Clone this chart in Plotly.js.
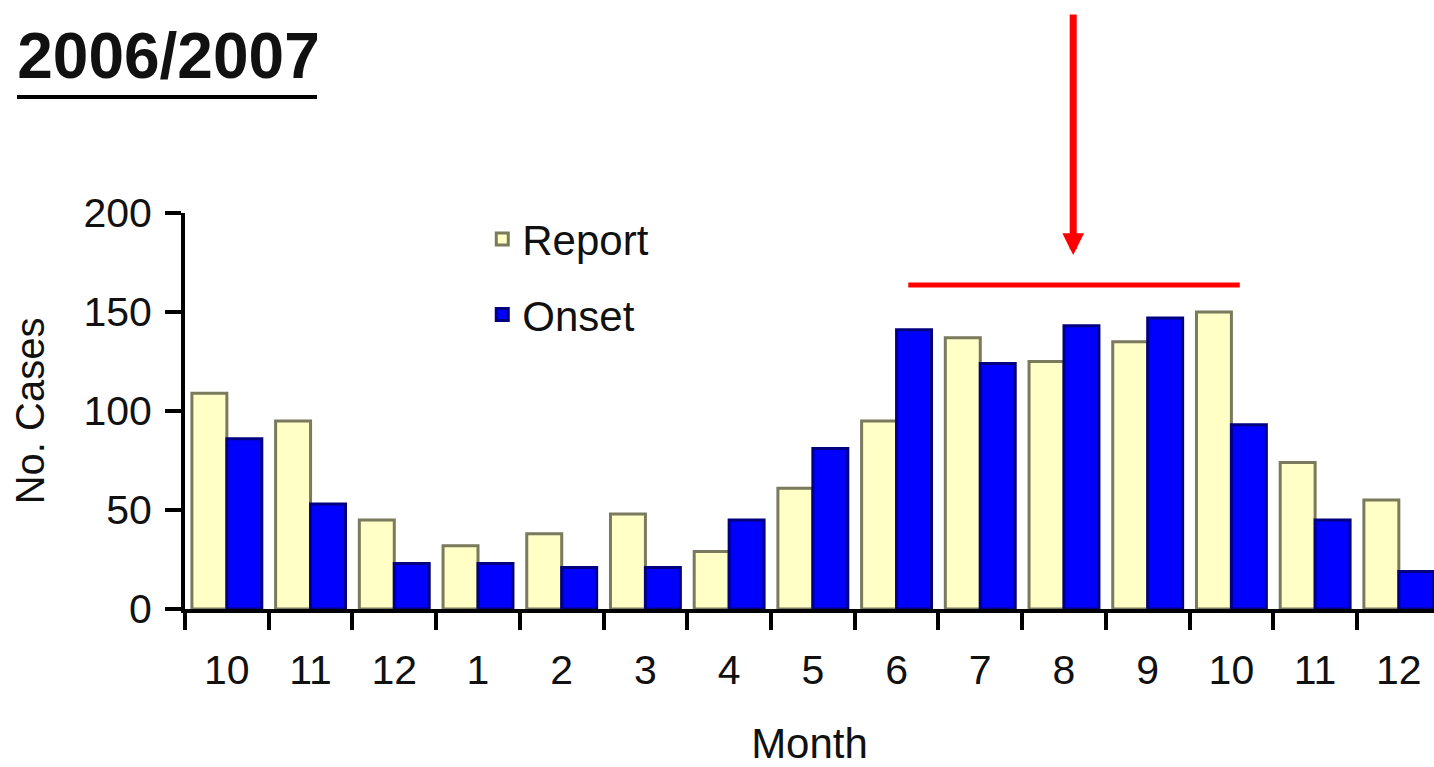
<!DOCTYPE html>
<html>
<head>
<meta charset="utf-8">
<script src="https://cdn.plot.ly/plotly-3.0.1.min.js"></script>
<style>html,body{margin:0;padding:0;background:#fff;}#chart{width:1434px;height:767px;}</style>
</head>
<body>
<div id="chart"></div>
<script>
const monthLabels = ["10","11","12","1","2","3","4","5","6","7","8","9","10","11","12"];
const reportCases = [109, 95, 45, 32, 38, 48, 29, 61, 95, 137, 125, 135, 150, 74, 55];
const onsetCases  = [86, 53, 23, 23, 21, 21, 45, 81, 141, 124, 143, 147, 93, 45, 19];
const yTicks = [0, 50, 100, 150, 200];

const idx = monthLabels.map((_, i) => i);
const bounds = monthLabels.map((_, i) => i - 0.5);

const FONT = "Liberation Sans, Arial, sans-serif";

const traces = [
  {
    type: "bar", name: "Report", x: idx, y: reportCases,
    marker: {color: "#FFFFC6", line: {color: "#7A7A5C", width: 3}},
    legendgroup: "a", hoverinfo: "y"
  },
  {
    type: "bar", name: "Onset", x: idx, y: onsetCases,
    marker: {color: "#0000FF", line: {color: "#000080", width: 3}},
    legendgroup: "b", hoverinfo: "y"
  }
];

const layout = {
  width: 1434, height: 767,
  margin: {l: 185, r: 0, t: 213, b: 158, pad: 0},
  paper_bgcolor: "#fff", plot_bgcolor: "#fff",
  font: {family: FONT, size: 42, color: "#111"},
  barmode: "group", bargap: 0.165, bargroupgap: 0,
  showlegend: true,
  legend: {
    x: 0.238, xanchor: "left", y: 1.02, yanchor: "top",
    font: {family: FONT, size: 42, color: "#111"},
    traceorder: "grouped", tracegroupgap: 18,
    bgcolor: "rgba(0,0,0,0)", borderwidth: 0
  },
  title: {
    text: "<b>2006/2007</b>",
    font: {family: FONT, size: 64, color: "#111"},
    xref: "container", yref: "container",
    x: 0.012, xanchor: "left", y: 0.957, yanchor: "top"
  },
  xaxis: {
    type: "linear", range: [-0.5, 14.42], fixedrange: true,
    tickmode: "array", tickvals: idx, ticktext: monthLabels,
    ticks: "", ticklabelstandoff: 22,
    tickfont: {family: FONT, size: 41, color: "#111"},
    showline: true, linecolor: "#000", linewidth: 4,
    showgrid: false, zeroline: false,
    minor: {tickmode: "array", tickvals: bounds, ticks: "outside", ticklen: 17, tickwidth: 4, tickcolor: "#000", showgrid: false},
    title: {text: "Month", font: {family: FONT, size: 42, color: "#111"}, standoff: 80},
    automargin: false
  },
  yaxis: {
    range: [0, 200], fixedrange: true,
    tickmode: "array", tickvals: yTicks,
    ticks: "outside", ticklen: 16, tickwidth: 4, tickcolor: "#000",
    ticklabelstandoff: 5,
    tickfont: {family: FONT, size: 41, color: "#111"},
    showline: true, linecolor: "#000", linewidth: 4,
    showgrid: false, zeroline: false,
    title: {text: "No. Cases", font: {family: FONT, size: 40, color: "#111"}, standoff: 27},
    automargin: false
  },
  shapes: [
    {type: "line", xref: "paper", yref: "paper", x0: -0.1345, x1: 0.1057, y0: 1.293, y1: 1.293,
     line: {color: "#000", width: 4}},
    {type: "line", xref: "x", yref: "y", x0: 8.14, x1: 12.1, y0: 163.6, y1: 163.6,
     line: {color: "#FF0000", width: 5}}
  ],
  annotations: [
    {x: 10.11, y: 178.8, xref: "x", yref: "y", text: "", showarrow: true,
     ax: 0, ay: -242, arrowhead: 2, arrowsize: 0.62, arrowwidth: 7, arrowcolor: "#FF0000", standoff: 0}
  ]
};

Plotly.newPlot("chart", traces, layout, {displayModeBar: false, staticPlot: true});
</script>
</body>
</html>
